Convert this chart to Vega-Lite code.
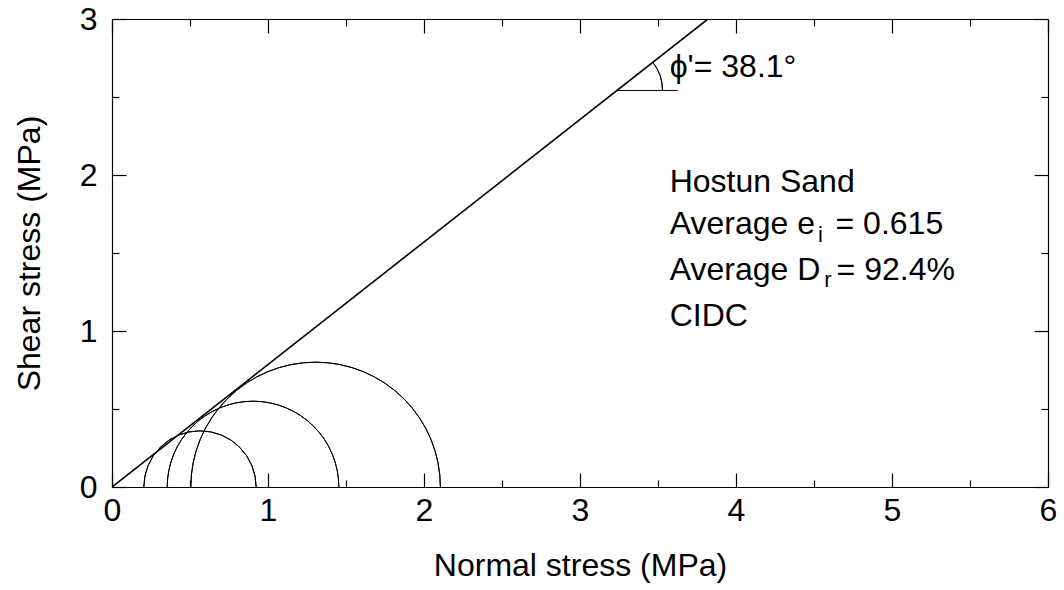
{
  "$schema": "https://vega.github.io/schema/vega-lite/v6.json",
  "width": 936,
  "height": 468,
  "autosize": "none",
  "padding": {"left": 112, "top": 19, "right": 16, "bottom": 103},
  "background": "white",
  "config": {
    "view": {"stroke": null},
    "font": "Liberation Sans",
    "axis": {
      "domainColor": "black",
      "domainWidth": 1.2,
      "tickColor": "black",
      "tickWidth": 1.2,
      "grid": false,
      "labelFont": "Liberation Sans",
      "labelFontSize": 32,
      "labelColor": "black",
      "titleFont": "Liberation Sans",
      "titleFontSize": 32,
      "titleFontWeight": "normal",
      "titleColor": "black",
      "labelOverlap": false,
      "labelFlush": false
    }
  },
  "datasets": {
    "envelope": [{"s": 0, "t": 0}, {"s": 3.82, "t": 3}],
    "circles": [
      {"c": 0.564, "r": 0.36},
      {"c": 0.904, "r": 0.55},
      {"c": 1.305, "r": 0.80}
    ],
    "angle": [{"s": 3.234, "s2": 3.627, "t": 2.542, "r": 0.295}],
    "labels": [
      {"s": 3.575, "t": 2.631, "txt": "ϕ'= 38.1°"},
      {"s": 3.575, "t": 1.888, "txt": "Hostun Sand"},
      {"s": 3.575, "t": 1.619, "txt": "Average e"},
      {"s": 4.638, "t": 1.619, "txt": "= 0.615"},
      {"s": 3.575, "t": 1.330, "txt": "Average D"},
      {"s": 4.645, "t": 1.330, "txt": "= 92.4%"},
      {"s": 3.575, "t": 1.029, "txt": "CIDC"}
    ],
    "subs": [
      {"s": 4.525, "t": 1.568, "txt": "i"},
      {"s": 4.565, "t": 1.279, "txt": "r"}
    ]
  },
  "resolve": {"axis": {"x": "independent", "y": "independent"}},
  "layer": [
    {
      "data": {"name": "envelope"},
      "mark": {"type": "line", "color": "black", "strokeWidth": 1.6, "clip": true},
      "encoding": {
        "x": {
          "field": "s", "type": "quantitative",
          "scale": {"domain": [0, 6], "nice": false, "zero": false},
          "axis": {
            "orient": "bottom",
            "title": "Normal stress (MPa)",
            "values": [0, 0.5, 1, 1.5, 2, 2.5, 3, 3.5, 4, 4.5, 5, 5.5, 6],
            "labelExpr": "datum.value % 1 === 0 ? format(datum.value, 'd') : ''",
            "tickSize": {"condition": {"test": "datum.value % 1 === 0", "value": -14}, "value": -7},
            "labelPadding": 22,
            "titlePadding": 17
          }
        },
        "y": {
          "field": "t", "type": "quantitative",
          "scale": {"domain": [0, 3], "nice": false, "zero": false},
          "axis": {
            "orient": "left",
            "title": "Shear stress (MPa)",
            "values": [0, 0.5, 1, 1.5, 2, 2.5, 3],
            "labelExpr": "datum.value % 1 === 0 ? format(datum.value, 'd') : ''",
            "tickSize": {"condition": {"test": "datum.value % 1 === 0", "value": -14}, "value": -7},
            "labelPadding": 29,
            "titlePadding": 33
          }
        }
      }
    },
    {
      "data": {"name": "angle"},
      "mark": {"type": "rule", "color": "black", "strokeWidth": 1},
      "encoding": {
        "x": {
          "field": "s", "type": "quantitative",
          "axis": {
            "orient": "top",
            "title": null,
            "labels": false,
            "values": [0, 0.5, 1, 1.5, 2, 2.5, 3, 3.5, 4, 4.5, 5, 5.5, 6],
            "tickSize": {"condition": {"test": "datum.value % 1 === 0", "value": -14}, "value": -7}
          }
        },
        "x2": {"field": "s2"},
        "y": {
          "field": "t", "type": "quantitative",
          "axis": {
            "orient": "right",
            "title": null,
            "labels": false,
            "values": [0, 0.5, 1, 1.5, 2, 2.5, 3],
            "tickSize": {"condition": {"test": "datum.value % 1 === 0", "value": -14}, "value": -7}
          }
        }
      }
    },
    {
      "data": {"name": "circles"},
      "mark": {"type": "arc", "theta": -1.5708, "theta2": 1.5708, "stroke": "black", "strokeWidth": 1, "fill": null},
      "encoding": {
        "x": {"field": "c", "type": "quantitative", "axis": null, "stack": null},
        "y": {"datum": 0, "type": "quantitative", "axis": null, "stack": null},
        "radius": {"field": "r", "type": "quantitative", "scale": {"type": "linear", "domain": [0, 6], "range": [0, 936], "zero": true}, "legend": null, "stack": null},
        "radius2": {"field": "r"}
      }
    },
    {
      "data": {"name": "angle"},
      "mark": {"type": "arc", "theta": 0.9058, "theta2": 1.5708, "stroke": "black", "strokeWidth": 1, "fill": null},
      "encoding": {
        "x": {"field": "s", "type": "quantitative", "axis": null, "stack": null},
        "y": {"field": "t", "type": "quantitative", "axis": null, "stack": null},
        "radius": {"field": "r", "type": "quantitative", "scale": {"type": "linear", "domain": [0, 6], "range": [0, 936], "zero": true}, "legend": null, "stack": null},
        "radius2": {"field": "r"}
      }
    },
    {
      "data": {"name": "labels"},
      "mark": {"type": "text", "align": "left", "baseline": "alphabetic", "font": "Liberation Sans", "fontSize": 32, "color": "black"},
      "encoding": {
        "x": {"field": "s", "type": "quantitative", "axis": null},
        "y": {"field": "t", "type": "quantitative", "axis": null},
        "text": {"field": "txt"}
      }
    },
    {
      "data": {"name": "subs"},
      "mark": {"type": "text", "align": "left", "baseline": "alphabetic", "font": "Liberation Sans", "fontSize": 22, "color": "black"},
      "encoding": {
        "x": {"field": "s", "type": "quantitative", "axis": null},
        "y": {"field": "t", "type": "quantitative", "axis": null},
        "text": {"field": "txt"}
      }
    }
  ]
}
